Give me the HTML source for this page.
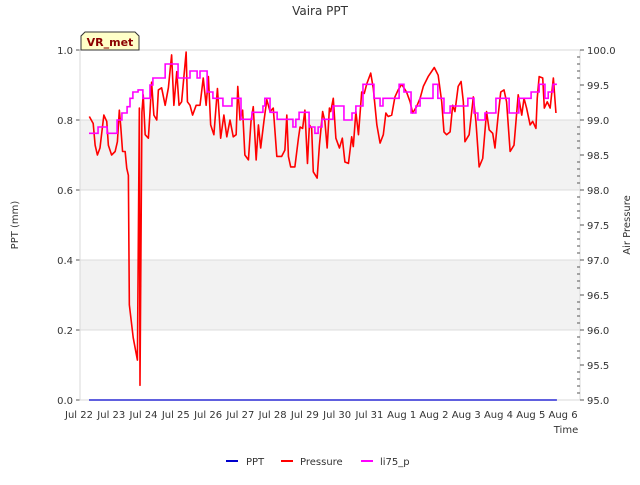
<!DOCTYPE html>
<html><head><meta charset="utf-8"><style>
body{margin:0;background:#fff;font-family:"Liberation Sans","DejaVu Sans",sans-serif}
svg text{font-family:"DejaVu Sans","Liberation Sans",sans-serif}
</style></head><body>
<svg id="chart" width="640" height="480" xmlns="http://www.w3.org/2000/svg"></svg>
<script>
const dayLabels=["Jul 22","Jul 23","Jul 24","Jul 25","Jul 26","Jul 27","Jul 28","Jul 29","Jul 30","Jul 31","Aug 1","Aug 2","Aug 3","Aug 4","Aug 5","Aug 6"];
const leftTicks=[0.0,0.2,0.4,0.6,0.8,1.0];
const rightTicks=[95.0,95.5,96.0,96.5,97.0,97.5,98.0,98.5,99.0,99.5,100.0];
const pressDays=[0.32,0.44,0.50,0.57,0.65,0.77,0.86,0.91,1.01,1.12,1.19,1.25,1.29,1.35,1.43,1.48,1.53,1.56,1.68,1.81,1.87,1.89,1.95,1.99,2.05,2.15,2.20,2.25,2.32,2.41,2.46,2.56,2.67,2.77,2.87,2.94,3.03,3.10,3.18,3.32,3.36,3.44,3.52,3.63,3.75,3.85,3.94,4.01,4.08,4.18,4.29,4.39,4.49,4.58,4.68,4.78,4.87,4.92,4.99,5.07,5.14,5.25,5.33,5.40,5.49,5.56,5.63,5.73,5.82,5.92,6.02,6.13,6.28,6.38,6.44,6.49,6.56,6.69,6.80,6.85,6.93,7.00,7.08,7.14,7.21,7.26,7.38,7.45,7.55,7.62,7.69,7.76,7.80,7.88,7.96,8.07,8.16,8.24,8.35,8.45,8.50,8.58,8.66,8.76,8.84,8.92,9.04,9.12,9.23,9.33,9.43,9.51,9.58,9.69,9.79,9.89,10.00,10.15,10.26,10.34,10.46,10.57,10.67,10.82,11.01,11.13,11.24,11.31,11.39,11.50,11.58,11.65,11.75,11.84,11.91,11.96,12.09,12.22,12.30,12.40,12.51,12.63,12.71,12.82,12.89,12.99,13.07,13.17,13.25,13.36,13.48,13.61,13.72,13.79,13.87,13.98,14.06,14.16,14.20,14.26,14.37,14.42,14.51,14.60,14.70,14.78];
const pressVals=[99.05,98.95,98.64,98.50,98.60,99.07,98.98,98.64,98.50,98.55,98.69,99.14,98.93,98.55,98.55,98.31,98.21,96.36,95.89,95.57,99.17,95.21,99.11,99.36,98.79,98.74,99.11,99.54,99.07,99.00,99.43,99.46,99.21,99.46,99.93,99.21,99.69,99.21,99.26,99.97,99.26,99.21,99.07,99.21,99.21,99.60,99.21,99.62,98.93,98.79,99.45,98.74,99.07,98.76,99.00,98.76,98.79,99.48,99.00,99.14,98.50,98.43,98.98,99.19,98.43,98.93,98.60,98.98,99.29,99.12,99.17,98.48,98.48,98.57,99.07,98.48,98.33,98.33,98.74,98.90,98.88,99.14,98.38,98.93,98.88,98.26,98.17,98.64,99.12,98.98,98.60,99.17,99.12,99.31,98.74,98.60,98.74,98.40,98.38,98.76,98.62,99.12,98.79,99.40,99.38,99.52,99.67,99.45,98.93,98.67,98.79,99.10,99.05,99.07,99.33,99.43,99.51,99.40,99.26,99.10,99.19,99.31,99.48,99.62,99.75,99.64,99.26,98.83,98.79,98.83,99.21,99.12,99.48,99.55,99.26,98.69,98.79,99.33,98.98,98.33,98.45,99.12,98.86,98.81,98.60,99.07,99.40,99.43,99.26,98.55,98.64,99.36,99.07,99.31,99.17,98.93,98.98,98.88,99.31,99.62,99.60,99.17,99.26,99.17,99.60,99.10];
const liDays=[0.31,0.59,0.87,1.18,1.33,1.49,1.58,1.67,1.83,1.98,2.20,2.29,2.67,3.07,3.44,3.66,3.75,3.97,4.15,4.46,4.74,5.02,5.36,5.70,5.76,5.92,6.14,6.63,6.72,6.82,7.13,7.31,7.41,7.53,7.87,8.21,8.46,8.58,8.80,9.14,9.33,9.42,9.92,10.07,10.29,10.44,10.57,10.97,11.12,11.31,11.50,12.05,12.24,12.36,12.58,12.92,13.33,13.63,14.01,14.26,14.44,14.54,14.69,14.81];
const liVals=[98.81,98.90,98.81,99.00,99.10,99.19,99.31,99.40,99.43,99.31,99.50,99.60,99.80,99.60,99.70,99.60,99.70,99.40,99.31,99.20,99.31,99.01,99.11,99.20,99.31,99.11,99.01,98.90,99.01,99.11,98.90,98.81,98.90,99.01,99.20,99.00,99.10,99.20,99.51,99.31,99.20,99.31,99.51,99.40,99.10,99.20,99.31,99.51,99.31,99.10,99.20,99.31,99.10,99.00,99.10,99.31,99.10,99.31,99.40,99.51,99.31,99.40,99.51,99.51];
const pptDays=[0.31,14.81];
const pptVals=[0,0];

const NS="http://www.w3.org/2000/svg";
const svg=document.getElementById('chart');
const L=80,R=580,T=50,B=400;
const xs=d=>79+d*32.27;
const yl=v=>B-(v-0)/1.0*(B-T);
const yr=v=>B-(v-95)/5*(B-T);
function mk(tag,attrs,parent){const e=document.createElementNS(NS,tag);for(const k in attrs)e.setAttribute(k,attrs[k]);(parent||svg).appendChild(e);return e;}

// bands & grid
[[0.2,0.4],[0.6,0.8]].forEach(b=>{
 const r=mk('rect',{x:L,y:yl(b[1]),width:R-L,height:yl(b[0])-yl(b[1]),fill:'#f2f2f2'});
 
 
});
leftTicks.forEach(v=>{
 const g=mk('line',{x1:L,x2:R,y1:yl(v),y2:yl(v),stroke:'#dcdcdc','stroke-width':1});
 
 
 const t=mk('line',{x1:L-4,x2:L,y1:yl(v),y2:yl(v),stroke:'#555'});
 
 
 const tx=mk('text',{x:L-7,y:yl(v)+4,'text-anchor':'end','font-size':10,fill:'#333'});
 tx.textContent=v.toFixed(1);
 
 
});
const frame=mk('rect',{x:L,y:T,width:R-L,height:B-T,fill:'none',stroke:'#d8d8d8'});


rightTicks.forEach(v=>{
 const t=mk('line',{x1:R,x2:R+4,y1:yr(v),y2:yr(v),stroke:'#555'});
 
 
 const tx=mk('text',{x:R+7,y:yr(v)+4,'font-size':10,fill:'#333'});
 tx.textContent=v.toFixed(1);
 
 
});
for(let i=0;i<=50;i++){
 if(i%5===0)continue;
 const v=95+i*0.1;
 const t=mk('line',{x1:R-3,x2:R,y1:yr(v),y2:yr(v),stroke:'#555'});
 
 
}
dayLabels.forEach((s,i)=>{
 const tx=mk('text',{x:xs(i),y:418,'text-anchor':'middle','font-size':10,fill:'#333'});
 tx.textContent=s;
 
 
});

// series
const ppt=mk('polyline',{points:pptDays.map((d,i)=>xs(d)+','+yl(pptVals[i])).join(' '),fill:'none',stroke:'#0000cc','stroke-width':1.3});


const pr=mk('polyline',{points:pressDays.map((d,i)=>xs(d)+','+yr(pressVals[i])).join(' '),fill:'none',stroke:'#ff0000','stroke-width':1.6,'stroke-linejoin':'round'});


let pts=[];
for(let i=0;i<liDays.length;i++){
 if(i>0)pts.push(xs(liDays[i])+','+yr(liVals[i-1]));
 pts.push(xs(liDays[i])+','+yr(liVals[i]));
}
const li=mk('polyline',{points:pts.join(' '),fill:'none',stroke:'#ff00ff','stroke-width':1.6});


</script>
<svg width="640" height="480" style="position:absolute;left:0;top:0" xmlns="http://www.w3.org/2000/svg">
 <text x="320" y="15" text-anchor="middle" font-size="12" fill="#333">Vaira PPT</text>
 <text x="566" y="433" text-anchor="middle" font-size="10" fill="#333">Time</text>
 <text transform="translate(18,225) rotate(-90)" text-anchor="middle" font-size="10" fill="#333">PPT (mm)</text>
 <text transform="translate(630,225) rotate(-90)" text-anchor="middle" font-size="10" fill="#333">Air Pressure</text>
 <g>
  <polygon points="85,32 135,32 139,36 139,50 81,50 81,36" fill="#ffffc8" stroke="#333" stroke-width="1"/>
  <text x="110" y="46" text-anchor="middle" font-size="11" font-weight="bold" fill="#8b0000">VR_met</text>
 </g>
 <g>
  <line x1="226" x2="238" y1="461" y2="461" stroke="#0000cc" stroke-width="2"/>
  <text x="246" y="465" font-size="10" fill="#333">PPT</text>
  <line x1="281" x2="293" y1="461" y2="461" stroke="#ff0000" stroke-width="2"/>
  <text x="300" y="465" font-size="10" fill="#333">Pressure</text>
  <line x1="361" x2="373" y1="461" y2="461" stroke="#ff00ff" stroke-width="2"/>
  <text x="380" y="465" font-size="10" fill="#333">li75_p</text>
 </g>
</svg>
</body></html>
